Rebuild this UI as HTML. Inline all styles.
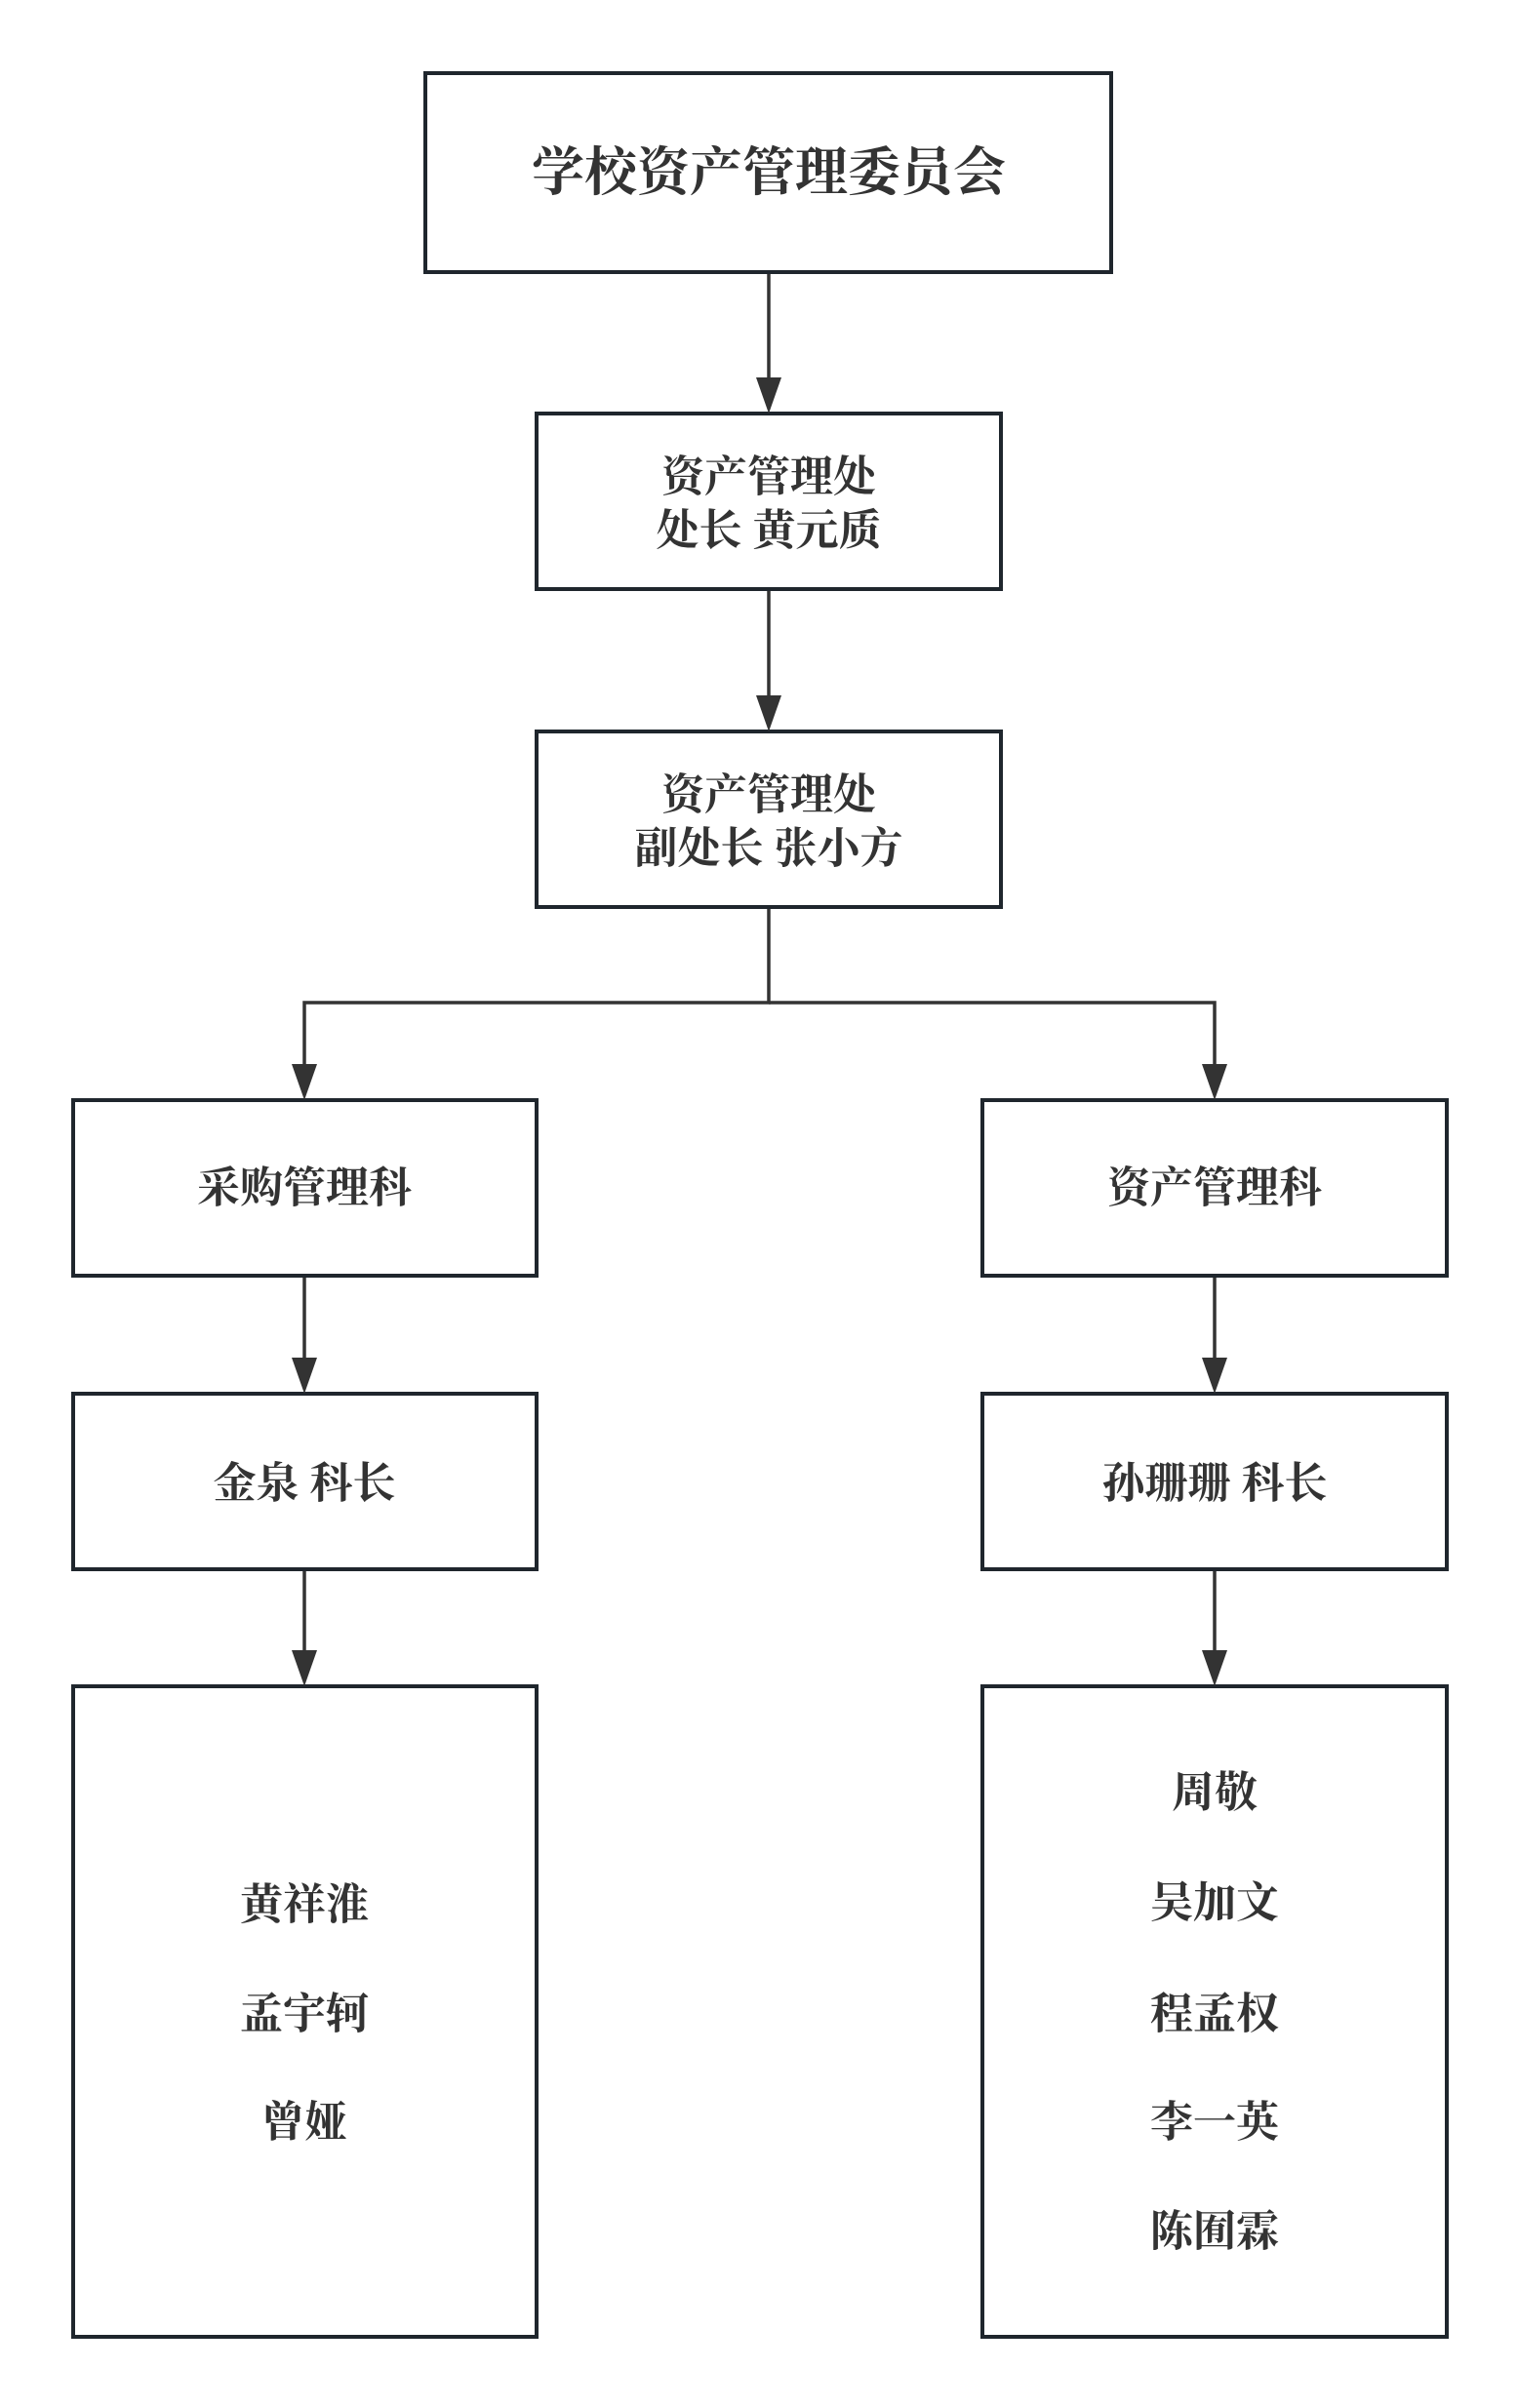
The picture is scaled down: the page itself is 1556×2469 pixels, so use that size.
<!DOCTYPE html>
<html><head><meta charset="utf-8"><style>
html,body{margin:0;padding:0;background:#fff;}
svg{display:block;}
text{font-family:"Liberation Serif","Noto Serif CJK SC","Noto Sans CJK SC",serif;font-weight:bold;fill:#333;text-anchor:middle;dominant-baseline:central;}
</style></head><body>
<svg width="1556" height="2469" viewBox="0 0 1556 2469" xmlns="http://www.w3.org/2000/svg">
<rect width="1556" height="2469" fill="#fff"/>
<g fill="#fff" stroke="#1f262d" stroke-width="4">
<rect x="436" y="75" width="703" height="204"/>
<rect x="550" y="424" width="476" height="180"/>
<rect x="550" y="750" width="476" height="180"/>
<rect x="75" y="1128" width="475" height="180"/>
<rect x="1007" y="1128" width="476" height="180"/>
<rect x="75" y="1429" width="475" height="180"/>
<rect x="1007" y="1429" width="476" height="180"/>
<rect x="75" y="1729" width="475" height="667"/>
<rect x="1007" y="1729" width="476" height="667"/>
</g>
<g stroke="#333" stroke-width="3.5" fill="none">
<line x1="788" y1="281" x2="788" y2="390"/>
<line x1="788" y1="606" x2="788" y2="716"/>
<polyline points="788,932 788,1028 312,1028 312,1094"/>
<polyline points="788,1028 1245,1028 1245,1094"/>
<line x1="312" y1="1310" x2="312" y2="1395"/>
<line x1="1245" y1="1310" x2="1245" y2="1395"/>
<line x1="312" y1="1611" x2="312" y2="1695"/>
<line x1="1245" y1="1611" x2="1245" y2="1695"/>
</g>
<g fill="#333">
<polygon points="775,387 801,387 788,424"/>
<polygon points="775,713 801,713 788,750"/>
<polygon points="299,1091 325,1091 312,1128"/>
<polygon points="1232,1091 1258,1091 1245,1128"/>
<polygon points="299,1392 325,1392 312,1429"/>
<polygon points="1232,1392 1258,1392 1245,1429"/>
<polygon points="299,1692 325,1692 312,1729"/>
<polygon points="1232,1692 1258,1692 1245,1729"/>
</g>
<text x="788" y="177" font-size="54">学校资产管理委员会</text>
<text x="788" y="489" font-size="44">资产管理处</text>
<text x="788" y="544" font-size="44">处长 黄元质</text>
<text x="788" y="815" font-size="44">资产管理处</text>
<text x="788" y="870" font-size="44">副处长 张小方</text>
<text x="312" y="1218" font-size="44">采购管理科</text>
<text x="1245" y="1218" font-size="44">资产管理科</text>
<text x="312" y="1521" font-size="44">金泉 科长</text>
<text x="1245" y="1521" font-size="44">孙珊珊 科长</text>
<text x="312" y="1953" font-size="44">黄祥淮</text>
<text x="312" y="2065" font-size="44">孟宇轲</text>
<text x="312" y="2176" font-size="44">曾娅</text>
<text x="1245" y="1838" font-size="44">周敬</text>
<text x="1245" y="1951" font-size="44">吴加文</text>
<text x="1245" y="2065" font-size="44">程孟权</text>
<text x="1245" y="2176" font-size="44">李一英</text>
<text x="1245" y="2288" font-size="44">陈囿霖</text>
</svg>
</body></html>
